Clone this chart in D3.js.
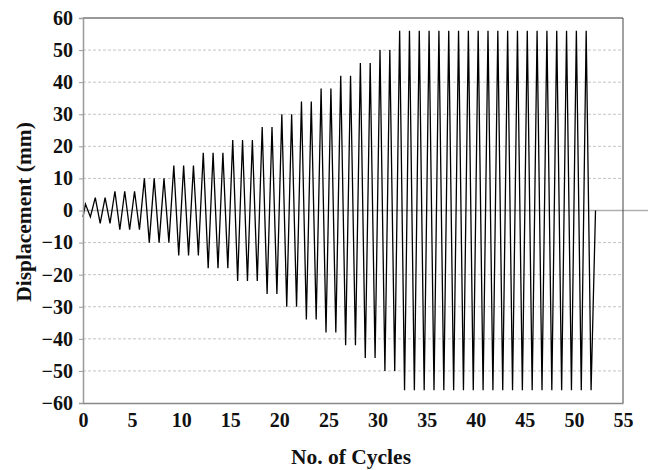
<!DOCTYPE html>
<html>
<head>
<meta charset="utf-8">
<script src="https://cdn.jsdelivr.net/npm/d3@7"></script>
<style>
  body { margin: 0; background: #fff; }
  text { font-family: "Liberation Serif", "DejaVu Serif", serif; font-weight: bold; fill: #111; }
</style>
</head>
<body>
<div id="chart"></div>
<script>
// peak displacement (mm) for each of the 52 cycles
const cycleAmplitudes = [
    2,
    4, 4,
    6, 6, 6,
    10, 10, 10,
    14, 14, 14,
    18, 18, 18,
    22, 22, 22,
    26, 26,
    30, 30,
    34, 34,
    38, 38,
    42, 42,
    46, 46,
    50, 50,
    56, 56, 56, 56, 56, 56, 56, 56, 56, 56,
    56, 56, 56, 56, 56, 56, 56, 56, 56, 56
];
const startPoint = [0, -2];
const endPoint = [52.2, 0];
const xTicks = [0, 5, 10, 15, 20, 25, 30, 35, 40, 45, 50, 55];
const yTicks = [-60, -50, -40, -30, -20, -10, 0, 10, 20, 30, 40, 50, 60];

const width = 648, height = 470;
const margin = {top: 18, right: 25, bottom: 67, left: 83};

const svg = d3.select('#chart')
    .append('svg')
    .attr('width', width)
    .attr('height', height);

const x = d3.scaleLinear().domain([0, 55]).range([margin.left, width - margin.right]);
const y = d3.scaleLinear().domain([-60, 60]).range([height - margin.bottom, margin.top]);

// build the zig-zag: peak at quarter cycle, trough at three quarters
let points = [startPoint];
cycleAmplitudes.forEach((a, i) => {
    points.push([i + 0.25, a]);
    points.push([i + 0.75, -a]);
});
points.push(endPoint);

// grid lines
svg.append('g')
    .selectAll('line')
    .data(yTicks.filter(d => d !== 0 && d !== 60 && d !== -60))
    .enter()
    .append('line')
    .attr('x1', x(0))
    .attr('x2', x(55))
    .attr('y1', d => y(d))
    .attr('y2', d => y(d))
    .attr('stroke', '#c4c4c4')
    .attr('stroke-width', 1)
    .attr('stroke-dasharray', '3,2');

// zero line (runs off to the right edge)
svg.append('line')
    .attr('x1', x(0))
    .attr('x2', width)
    .attr('y1', y(0))
    .attr('y2', y(0))
    .attr('stroke', '#b0b0b0')
    .attr('stroke-width', 1.5);

// frame
svg.append('line')
    .attr('x1', x(0)).attr('x2', x(55))
    .attr('y1', y(60)).attr('y2', y(60))
    .attr('stroke', '#777').attr('stroke-width', 1.5);
svg.append('line')
    .attr('x1', x(55)).attr('x2', x(55))
    .attr('y1', y(60)).attr('y2', y(-60))
    .attr('stroke', '#444').attr('stroke-width', 1);

// the signal
svg.append('path')
    .datum(points)
    .attr('fill', 'none')
    .attr('stroke', '#000')
    .attr('stroke-width', 1.3)
    .attr('d', d3.line().x(d => x(d[0])).y(d => y(d[1])));

// axes
const yAxis = d3.axisLeft(y).tickValues(yTicks).tickSize(4).tickPadding(6);
const gy = svg.append('g')
    .attr('transform', `translate(${x(0)},0)`)
    .call(yAxis);
gy.select('.domain').attr('stroke', '#999').attr('stroke-width', 1.5);
gy.selectAll('.tick line').attr('stroke', '#999');

const xAxis = d3.axisBottom(x).tickValues(xTicks).tickSize(0).tickPadding(10);
const gx = svg.append('g')
    .attr('transform', `translate(0,${y(-60)})`)
    .call(xAxis);
gx.select('.domain').attr('stroke', '#888').attr('stroke-width', 1.5);

svg.selectAll('.tick text')
    .attr('fill', null)
    .style('font-size', '20px');
svg.selectAll('g').attr('font-family', null).attr('font-size', null);

// titles
svg.append('text')
    .attr('text-anchor', 'middle')
    .attr('x', 351)
    .attr('y', 464)
    .style('font-size', '21.5px')
    .text('No. of Cycles');

svg.append('text')
    .attr('text-anchor', 'middle')
    .attr('transform', 'translate(31,212) rotate(-90)')
    .style('font-size', '21.5px')
    .text('Displacement (mm)');
</script>
</body>
</html>
